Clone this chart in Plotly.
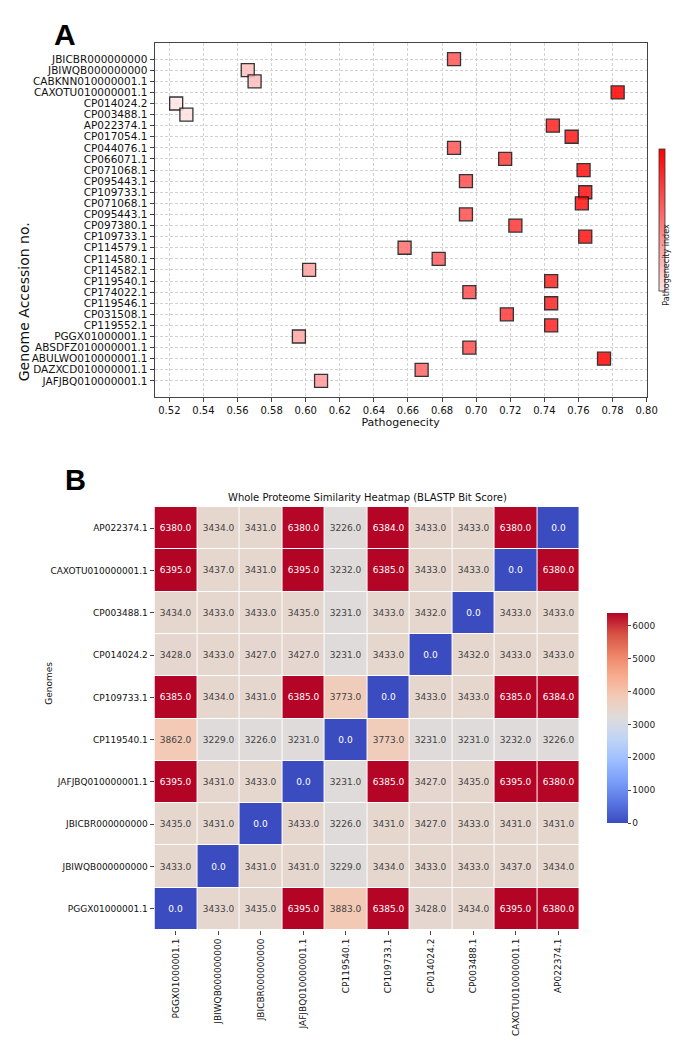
import plotly.graph_objects as go

# ---------------- Panel A data ----------------
genomes_a = [
    "JBICBR000000000", "JBIWQB000000000", "CABKNN010000001.1", "CAXOTU010000001.1",
    "CP014024.2", "CP003488.1", "AP022374.1", "CP017054.1", "CP044076.1", "CP066071.1",
    "CP071068.1", "CP095443.1", "CP109733.1", "CP071068.1", "CP095443.1", "CP097380.1",
    "CP109733.1", "CP114579.1", "CP114580.1", "CP114582.1", "CP119540.1", "CP174022.1",
    "CP119546.1", "CP031508.1", "CP119552.1", "PGGX01000001.1", "ABSDFZ010000001.1",
    "ABULWO010000001.1", "DAZXCD010000001.1", "JAFJBQ010000001.1",
]
pathogenicity = [
    0.687, 0.566, 0.570, 0.783,
    0.524, 0.530, 0.745, 0.756, 0.687, 0.717,
    0.763, 0.694, 0.764, 0.762, 0.694, 0.723,
    0.764, 0.658, 0.678, 0.602, 0.744, 0.696,
    0.744, 0.718, 0.744, 0.596, 0.696,
    0.775, 0.668, 0.609,
]
x_ticks_a = [0.52, 0.54, 0.56, 0.58, 0.60, 0.62, 0.64, 0.66, 0.68, 0.70,
             0.72, 0.74, 0.76, 0.78, 0.80]
x_tick_labels_a = ["0.52", "0.54", "0.56", "0.58", "0.60", "0.62", "0.64", "0.66",
                   "0.68", "0.70", "0.72", "0.74", "0.76", "0.78", "0.80"]

# ---------------- Panel B data ----------------
heat_rows = ["AP022374.1", "CAXOTU010000001.1", "CP003488.1", "CP014024.2", "CP109733.1",
             "CP119540.1", "JAFJBQ010000001.1", "JBICBR000000000", "JBIWQB000000000",
             "PGGX01000001.1"]
heat_cols = ["PGGX01000001.1", "JBIWQB000000000", "JBICBR000000000", "JAFJBQ010000001.1",
             "CP119540.1", "CP109733.1", "CP014024.2", "CP003488.1", "CAXOTU010000001.1",
             "AP022374.1"]
bitscores = [
    [6380, 3434, 3431, 6380, 3226, 6384, 3433, 3433, 6380, 0],
    [6395, 3437, 3431, 6395, 3232, 6385, 3433, 3433, 0, 6380],
    [3434, 3433, 3433, 3435, 3231, 3433, 3432, 0, 3433, 3433],
    [3428, 3433, 3427, 3427, 3231, 3433, 0, 3432, 3433, 3433],
    [6385, 3434, 3431, 6385, 3773, 0, 3433, 3433, 6385, 6384],
    [3862, 3229, 3226, 3231, 0, 3773, 3231, 3231, 3232, 3226],
    [6395, 3431, 3433, 0, 3231, 6385, 3427, 3435, 6395, 6380],
    [3435, 3431, 0, 3433, 3226, 3431, 3427, 3433, 3431, 3431],
    [3433, 0, 3431, 3431, 3229, 3434, 3433, 3433, 3437, 3434],
    [0, 3433, 3435, 6395, 3883, 6385, 3428, 3434, 6395, 6380],
]
cb_ticks_b = [0, 1000, 2000, 3000, 4000, 5000, 6000]

W, H = 697, 1037
FONT = "DejaVu Sans"

coolwarm = [
    [0.0, "#3b4cc0"], [0.1, "#5977e3"], [0.2, "#7b9ff9"], [0.3, "#9ebeff"],
    [0.4, "#c0d4f5"], [0.5, "#dddcdc"], [0.6, "#f2cbb7"], [0.7, "#f7ac8e"],
    [0.8, "#ee8468"], [0.9, "#d65244"], [1.0, "#b40426"],
]

fig = go.Figure()

fig.add_trace(go.Scatter(
    x=pathogenicity,
    y=list(range(len(genomes_a))),
    mode="markers",
    xaxis="x", yaxis="y",
    showlegend=False,
    marker=dict(
        symbol="square", size=13,
        color=pathogenicity,
        colorscale=[[0, "#fde4e4"], [1, "#ff0000"]],
        opacity=0.85,
        line=dict(color="#111111", width=1.3),
        colorbar=dict(
            x=670 / W, xanchor="left", xpad=0, ypad=0, thickness=6,
            len=142 / H, y=1 - 220 / H, yanchor="middle",
            showticklabels=False, ticks="",
            outlinewidth=0.8, outlinecolor="#333333",
        ),
    ),
))

fig.add_trace(go.Heatmap(
    z=bitscores, x=heat_cols, y=heat_rows,
    xaxis="x2", yaxis="y2",
    colorscale=coolwarm, zmin=0, zmax=6395,
    xgap=1, ygap=1,
    texttemplate="%{z:.1f}",
    textfont=dict(size=9, family=FONT),
    colorbar=dict(
        x=617 / W, xanchor="left", xpad=0, ypad=0, thickness=21,
        len=210 / H, y=1 - 718 / H, yanchor="middle",
        tickvals=cb_ticks_b, ticks="outside", ticklen=3,
        tickfont=dict(size=9, family=FONT, color="#222"),
        outlinewidth=0,
    ),
    hoverongaps=False,
))

axis_common_a = dict(
    showgrid=True, gridcolor="#d2d2d2", griddash="3px,2px", gridwidth=0.8,
    showline=True, mirror=True, linecolor="#444444", linewidth=1,
    ticks="outside", ticklen=4, tickcolor="#444444", zeroline=False,
)

fig.update_layout(
    width=W, height=H,
    margin=dict(l=0, r=0, t=0, b=0),
    paper_bgcolor="white", plot_bgcolor="white",
    font=dict(family=FONT, color="#111111"),
    xaxis=dict(
        domain=[157 / W, 657 / W], anchor="y",
        range=[0.5113, 0.80],
        tickvals=x_ticks_a, ticktext=x_tick_labels_a,
        tickfont=dict(size=10),
        title=dict(text="Pathogenecity", font=dict(size=11), standoff=3),
        **axis_common_a,
    ),
    yaxis=dict(
        domain=[1 - 397 / H, 1 - 43 / H], anchor="x",
        range=[len(genomes_a) - 1 + 1.45, -1.45],
        tickvals=list(range(len(genomes_a))), ticktext=genomes_a,
        tickfont=dict(size=10.5),
        **axis_common_a,
    ),
    xaxis2=dict(
        domain=[157 / W, 589 / W], anchor="y2",
        tickangle=-90, ticks="outside", ticklen=4, tickcolor="#444",
        tickfont=dict(size=9), showgrid=False, zeroline=False, showline=False,
    ),
    yaxis2=dict(
        domain=[1 - 930 / H, 1 - 507 / H], anchor="x2",
        autorange="reversed",
        ticks="outside", ticklen=4, tickcolor="#444",
        tickfont=dict(size=9), showgrid=False, zeroline=False, showline=False,
    ),
    annotations=[
        dict(text="<b>A</b>", x=53 / W, y=1 - 16 / H, xref="paper", yref="paper",
             showarrow=False, font=dict(size=30, family="Liberation Sans", color="black")),
        dict(text="<b>B</b>", x=64 / W, y=1 - 480 / H, xref="paper", yref="paper",
             showarrow=False, font=dict(size=29, family="Liberation Sans", color="black")),
        dict(text="Genome Accession no.", x=14 / W, y=1 - 220 / H, xref="paper", yref="paper",
             showarrow=False, textangle=-90, font=dict(size=14)),
        dict(text="Pathogenecity index", x=683 / W, y=1 - 222 / H, xref="paper", yref="paper",
             showarrow=False, textangle=-90, font=dict(size=8, color="#222")),
        dict(text="Genomes", x=42 / W, y=1 - 707 / H, xref="paper", yref="paper",
             showarrow=False, textangle=-90, font=dict(size=9)),
        dict(text="Whole Proteome Similarity Heatmap (BLASTP Bit Score)",
             x=373 / W, y=1 - 497 / H, xref="paper", yref="paper",
             showarrow=False, font=dict(size=10)),
    ],
)

fig.write_html("out.html")
